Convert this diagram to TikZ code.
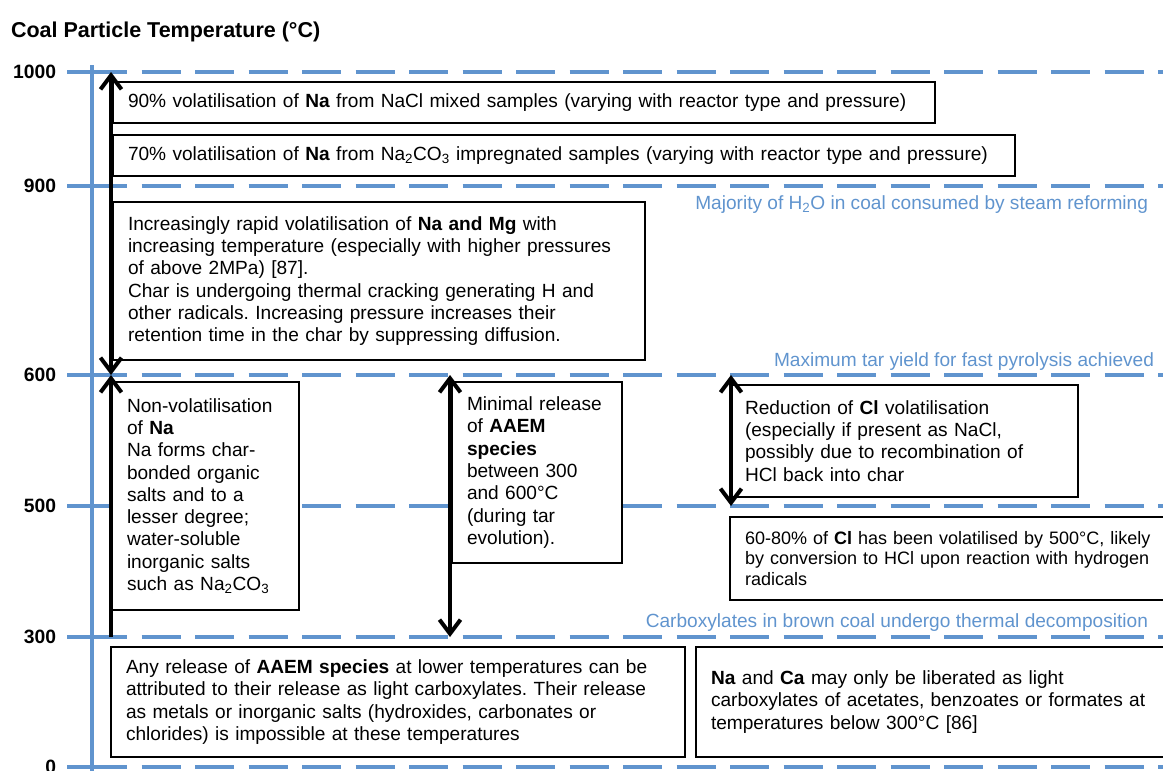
\documentclass[tikz,border=0pt]{standalone}
\usepackage{fontspec}
\setmainfont{Liberation Sans}
\usetikzlibrary{arrows.meta}
\definecolor{axisblue}{RGB}{96,148,206}
\frenchspacing
\begin{document}
\begin{tikzpicture}[x=1pt,y=-1pt,
  every node/.style={font=\fontsize{19.1}{22.3}\selectfont, inner sep=0pt, outer sep=0pt},
  gridline/.style={axisblue, line width=4pt, dash pattern=on 39pt off 14.5pt},
  gridtick/.style={axisblue, line width=4pt},
  infobox/.style={draw=black, line width=2pt, fill=white, anchor=north west, align=left, inner xsep=15pt, inner ysep=0pt},
  smalltext/.style={font=\fontsize{18}{20.6}\selectfont},
  twoway/.style={line width=4pt, {Straight Barb[length=14pt,width=21pt]}-{Straight Barb[length=14pt,width=21pt]}},
  oneway/.style={line width=4pt, -{Straight Barb[length=14pt,width=21pt]}},
  ticklabel/.style={anchor=east, font=\bfseries\fontsize{19.3}{22.3}\selectfont},
  bluelabel/.style={anchor=base east, text=axisblue}
]
\useasboundingbox (0,0) rectangle (1163,771);

% horizontal temperature lines
\foreach \yy in {72,186,375,506,637,767}{
  \draw[gridtick] (67,\yy) -- (92,\yy);
  \draw[gridline] (88,\yy) -- (1185,\yy);
}
% vertical axis
\draw[gridtick] (92,65) -- (92,780);

% title and tick labels
\node[anchor=base west, font=\bfseries\fontsize{21.5}{25}\selectfont] (title) at (11,37) {Coal Particle Temperature (°C)};
\node[ticklabel] (t1000) at (56,72) {1000};
\node[ticklabel] (t900) at (56,186) {900};
\node[ticklabel] (t600) at (56,375) {600};
\node[ticklabel] (t500) at (56,506) {500};
\node[ticklabel] (t300) at (56,637) {300};
\node[ticklabel] (t0) at (56,767) {0};

% blue event labels
\node[bluelabel] (lblH2O) at (1148,209) {Majority of H\textsubscript{2}O in coal consumed by steam reforming};
\node[bluelabel] (lblTar) at (1154,366) {Maximum tar yield for fast pyrolysis achieved};
\node[bluelabel] (lblCarb) at (1148,627) {Carboxylates in brown coal undergo thermal decomposition};

% boxes
\node[infobox, minimum height=41pt, text width=792pt] (boxA) at (113,82)
 {90\% volatilisation of \textbf{Na} from NaCl mixed samples (varying with reactor type and pressure)};
\node[infobox, minimum height=41pt, text width=872pt] (boxB) at (113,135)
 {70\% volatilisation of \textbf{Na} from Na\textsubscript{2}CO\textsubscript{3} impregnated samples (varying with reactor type and pressure)};
\node[infobox, minimum height=158pt, text width=502pt] (boxC) at (113,202)
 {Increasingly rapid volatilisation of \textbf{Na and Mg} with\\
  increasing temperature (especially with higher pressures\\
  of above 2MPa) [87].\\
  Char is undergoing thermal cracking generating H and\\
  other radicals. Increasing pressure increases their\\
  retention time in the char by suppressing diffusion.};
\node[infobox, minimum height=228pt, text width=157pt] (boxD) at (112,382)
 {Non-volatilisation\\
  of \textbf{Na}\\
  Na forms char-\\
  bonded organic\\
  salts and to a\\
  lesser degree;\\
  water-soluble\\
  inorganic salts\\
  such as Na\textsubscript{2}CO\textsubscript{3}};
\node[infobox, minimum height=181pt, text width=140pt] (boxE) at (452,382)
 {Minimal release\\
  of \textbf{AAEM}\\
  \textbf{species}\\
  between 300\\
  and 600°C\\
  (during tar\\
  evolution).};
\node[infobox, minimum height=112pt, text width=318pt] (boxF) at (730,385)
 {Reduction of \textbf{Cl} volatilisation\\
  (especially if present as NaCl,\\
  possibly due to recombination of\\
  HCl back into char};
\node[infobox, smalltext, minimum height=83pt, text width=470pt] (boxG) at (730,517)
 {60-80\% of \textbf{Cl} has been volatilised by 500°C, likely\\
  by conversion to HCl upon reaction with hydrogen\\
  radicals};
\node[infobox, minimum height=110pt, text width=490pt] (boxI) at (696,647)
 {\textbf{Na} and \textbf{Ca} may only be liberated as light\\
  carboxylates of acetates, benzoates or formates at\\
  temperatures below 300°C [86]};
\node[infobox, minimum height=110pt, text width=544pt] (boxH) at (111,647)
 {Any release of \textbf{AAEM species} at lower temperatures can be\\
  attributed to their release as light carboxylates. Their release\\
  as metals or inorganic salts (hydroxides, carbonates or\\
  chlorides) is impossible at these temperatures};

% arrows
\coordinate (a1t) at (111,72);
\coordinate (a1b) at (111,375);
\coordinate (a2b) at (111,637);
\coordinate (a3t) at (450,375);
\coordinate (a3b) at (450,637);
\coordinate (a4t) at (731,375);
\coordinate (a4b) at (731,506);
\draw[twoway] (a1b) -- (a1t);
\draw[oneway] (a2b) -- (a1b);
\draw[twoway] (a3t) -- (a3b);
\draw[twoway] (a4t) -- (a4b);
\end{tikzpicture}
\end{document}
